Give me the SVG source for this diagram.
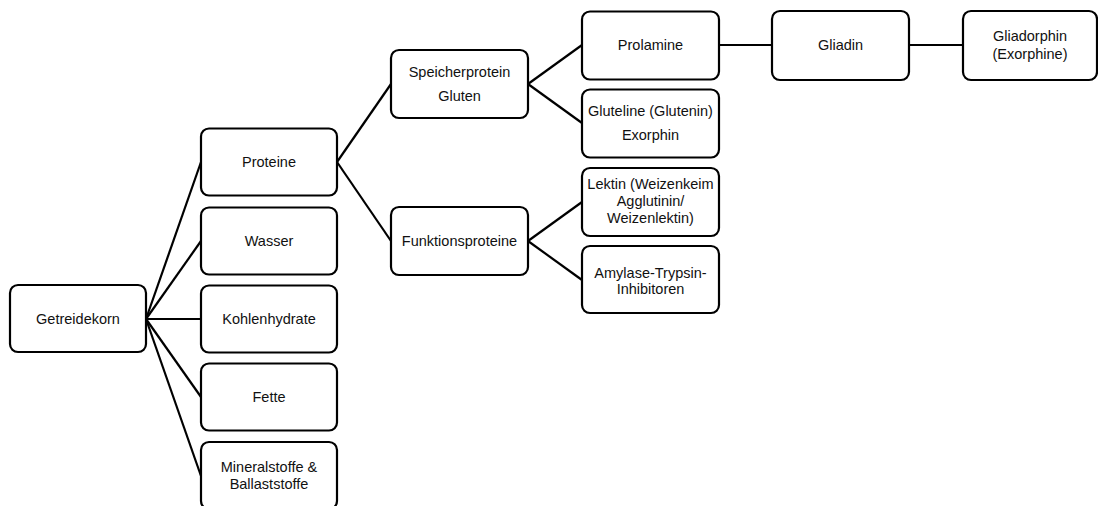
<svg xmlns="http://www.w3.org/2000/svg" width="1098" height="506" viewBox="0 0 1098 506">
<style>
.box{fill:#fff;stroke:#000;stroke-width:2.2}
.t{font-family:"Liberation Sans",Arial,sans-serif;font-size:14.5px;fill:#111;text-anchor:middle}
.c{stroke:#000;stroke-width:2.2;fill:none}
</style>
<rect width="1098" height="506" fill="#fff"/>
<g id="connectors">
<line class="c" x1="146" y1="319" x2="201" y2="162"/>
<line class="c" x1="146" y1="319" x2="201" y2="241"/>
<line class="c" x1="146" y1="319" x2="201" y2="319"/>
<line class="c" x1="146" y1="319" x2="201" y2="397"/>
<line class="c" x1="146" y1="319" x2="201" y2="476"/>
<line class="c" x1="337" y1="162" x2="391" y2="84"/>
<line class="c" x1="337" y1="162" x2="391" y2="241"/>
<line class="c" x1="528" y1="84" x2="582" y2="45"/>
<line class="c" x1="528" y1="84" x2="582" y2="123"/>
<line class="c" x1="528" y1="241" x2="582" y2="202"/>
<line class="c" x1="528" y1="241" x2="582" y2="280"/>
<line class="c" x1="719" y1="45" x2="772" y2="45"/>
<line class="c" x1="909" y1="45" x2="963" y2="45"/>
</g>
<g id="getreidekorn"><rect class="box" x="10" y="285" width="136" height="67" rx="8"/><text class="t" x="78" y="324">Getreidekorn</text></g>
<g id="proteine"><rect class="box" x="201" y="128.5" width="136" height="67" rx="8"/><text class="t" x="269" y="167">Proteine</text></g>
<g id="wasser"><rect class="box" x="201" y="207.5" width="136" height="67" rx="8"/><text class="t" x="269" y="246">Wasser</text></g>
<g id="kohlenhydrate"><rect class="box" x="201" y="285.5" width="136" height="67" rx="8"/><text class="t" x="269" y="324">Kohlenhydrate</text></g>
<g id="fette"><rect class="box" x="201" y="363.5" width="136" height="67" rx="8"/><text class="t" x="269" y="402">Fette</text></g>
<g id="mineralstoffe"><rect class="box" x="201" y="442" width="136" height="67" rx="8"/><text class="t" x="269" y="472">Mineralstoffe &amp;</text><text class="t" x="269" y="489">Ballaststoffe</text></g>
<g id="speicherprotein"><rect class="box" x="391" y="50" width="137" height="68" rx="8"/><text class="t" x="459.5" y="77">Speicherprotein</text><text class="t" x="459.5" y="101">Gluten</text></g>
<g id="funktionsproteine"><rect class="box" x="391" y="207" width="137" height="68" rx="8"/><text class="t" x="459.5" y="246">Funktionsproteine</text></g>
<g id="prolamine"><rect class="box" x="582" y="11.5" width="137" height="68" rx="8"/><text class="t" x="650.5" y="50">Prolamine</text></g>
<g id="gluteline"><rect class="box" x="582" y="89.5" width="137" height="68" rx="8"/><text class="t" x="650.5" y="116">Gluteline (Glutenin)</text><text class="t" x="650.5" y="140">Exorphin</text></g>
<g id="lektin"><rect class="box" x="582" y="168" width="137" height="68" rx="8"/><text class="t" x="650.5" y="189">Lektin (Weizenkeim</text><text class="t" x="650.5" y="206">Agglutinin/</text><text class="t" x="650.5" y="223">Weizenlektin)</text></g>
<g id="amylase"><rect class="box" x="582" y="246" width="137" height="67" rx="8"/><text class="t" x="650.5" y="278">Amylase-Trypsin-</text><text class="t" x="650.5" y="294">Inhibitoren</text></g>
<g id="gliadin"><rect class="box" x="772" y="11" width="137" height="69" rx="8"/><text class="t" x="840.5" y="50">Gliadin</text></g>
<g id="gliadorphin"><rect class="box" x="963" y="11" width="134" height="69" rx="8"/><text class="t" x="1030" y="41">Gliadorphin</text><text class="t" x="1030" y="59">(Exorphine)</text></g>
</svg>
